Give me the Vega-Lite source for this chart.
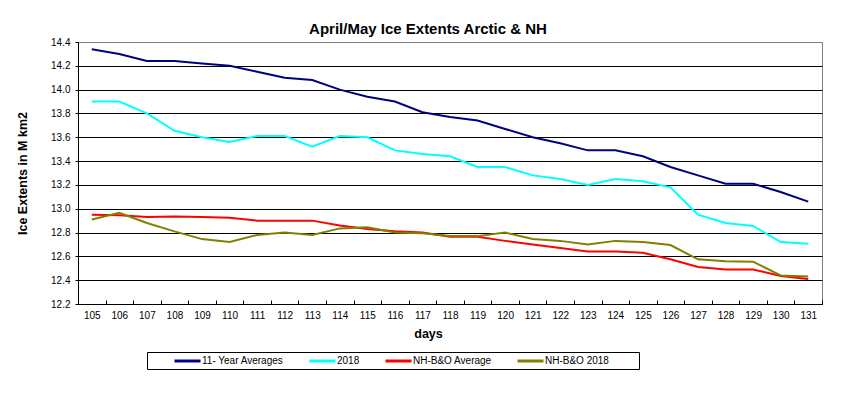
{
  "$schema": "https://vega.github.io/schema/vega-lite/v6.json",
  "autosize": "none",
  "width": 744,
  "height": 262,
  "padding": {"top": 42, "left": 78, "right": 38, "bottom": 91},
  "background": "white",
  "title": {"text": "April/May Ice Extents Arctic & NH", "font": "Liberation Sans", "fontSize": 15, "fontWeight": "bold", "color": "black", "anchor": "middle", "dx": -22, "offset": 0},
  "data": {"values": [
    {"day": 105, "series": "11- Year Averages", "value": 14.34},
    {"day": 106, "series": "11- Year Averages", "value": 14.30},
    {"day": 107, "series": "11- Year Averages", "value": 14.24},
    {"day": 108, "series": "11- Year Averages", "value": 14.24},
    {"day": 109, "series": "11- Year Averages", "value": 14.22},
    {"day": 110, "series": "11- Year Averages", "value": 14.20},
    {"day": 111, "series": "11- Year Averages", "value": 14.15},
    {"day": 112, "series": "11- Year Averages", "value": 14.10},
    {"day": 113, "series": "11- Year Averages", "value": 14.08},
    {"day": 114, "series": "11- Year Averages", "value": 14.00},
    {"day": 115, "series": "11- Year Averages", "value": 13.94},
    {"day": 116, "series": "11- Year Averages", "value": 13.90},
    {"day": 117, "series": "11- Year Averages", "value": 13.81},
    {"day": 118, "series": "11- Year Averages", "value": 13.77},
    {"day": 119, "series": "11- Year Averages", "value": 13.74},
    {"day": 120, "series": "11- Year Averages", "value": 13.67},
    {"day": 121, "series": "11- Year Averages", "value": 13.60},
    {"day": 122, "series": "11- Year Averages", "value": 13.55},
    {"day": 123, "series": "11- Year Averages", "value": 13.49},
    {"day": 124, "series": "11- Year Averages", "value": 13.49},
    {"day": 125, "series": "11- Year Averages", "value": 13.44},
    {"day": 126, "series": "11- Year Averages", "value": 13.35},
    {"day": 127, "series": "11- Year Averages", "value": 13.28},
    {"day": 128, "series": "11- Year Averages", "value": 13.21},
    {"day": 129, "series": "11- Year Averages", "value": 13.21},
    {"day": 130, "series": "11- Year Averages", "value": 13.14},
    {"day": 131, "series": "11- Year Averages", "value": 13.06},
    {"day": 105, "series": "2018", "value": 13.90},
    {"day": 106, "series": "2018", "value": 13.90},
    {"day": 107, "series": "2018", "value": 13.80},
    {"day": 108, "series": "2018", "value": 13.655},
    {"day": 109, "series": "2018", "value": 13.60},
    {"day": 110, "series": "2018", "value": 13.56},
    {"day": 111, "series": "2018", "value": 13.61},
    {"day": 112, "series": "2018", "value": 13.61},
    {"day": 113, "series": "2018", "value": 13.52},
    {"day": 114, "series": "2018", "value": 13.61},
    {"day": 115, "series": "2018", "value": 13.60},
    {"day": 116, "series": "2018", "value": 13.49},
    {"day": 117, "series": "2018", "value": 13.46},
    {"day": 118, "series": "2018", "value": 13.44},
    {"day": 119, "series": "2018", "value": 13.35},
    {"day": 120, "series": "2018", "value": 13.35},
    {"day": 121, "series": "2018", "value": 13.28},
    {"day": 122, "series": "2018", "value": 13.25},
    {"day": 123, "series": "2018", "value": 13.20},
    {"day": 124, "series": "2018", "value": 13.25},
    {"day": 125, "series": "2018", "value": 13.23},
    {"day": 126, "series": "2018", "value": 13.18},
    {"day": 127, "series": "2018", "value": 12.95},
    {"day": 128, "series": "2018", "value": 12.88},
    {"day": 129, "series": "2018", "value": 12.855},
    {"day": 130, "series": "2018", "value": 12.72},
    {"day": 131, "series": "2018", "value": 12.705},
    {"day": 105, "series": "NH-B&O Average", "value": 12.95},
    {"day": 106, "series": "NH-B&O Average", "value": 12.945},
    {"day": 107, "series": "NH-B&O Average", "value": 12.93},
    {"day": 108, "series": "NH-B&O Average", "value": 12.935},
    {"day": 109, "series": "NH-B&O Average", "value": 12.93},
    {"day": 110, "series": "NH-B&O Average", "value": 12.925},
    {"day": 111, "series": "NH-B&O Average", "value": 12.90},
    {"day": 112, "series": "NH-B&O Average", "value": 12.90},
    {"day": 113, "series": "NH-B&O Average", "value": 12.90},
    {"day": 114, "series": "NH-B&O Average", "value": 12.86},
    {"day": 115, "series": "NH-B&O Average", "value": 12.83},
    {"day": 116, "series": "NH-B&O Average", "value": 12.81},
    {"day": 117, "series": "NH-B&O Average", "value": 12.80},
    {"day": 118, "series": "NH-B&O Average", "value": 12.765},
    {"day": 119, "series": "NH-B&O Average", "value": 12.765},
    {"day": 120, "series": "NH-B&O Average", "value": 12.73},
    {"day": 121, "series": "NH-B&O Average", "value": 12.70},
    {"day": 122, "series": "NH-B&O Average", "value": 12.67},
    {"day": 123, "series": "NH-B&O Average", "value": 12.64},
    {"day": 124, "series": "NH-B&O Average", "value": 12.64},
    {"day": 125, "series": "NH-B&O Average", "value": 12.63},
    {"day": 126, "series": "NH-B&O Average", "value": 12.575},
    {"day": 127, "series": "NH-B&O Average", "value": 12.51},
    {"day": 128, "series": "NH-B&O Average", "value": 12.49},
    {"day": 129, "series": "NH-B&O Average", "value": 12.49},
    {"day": 130, "series": "NH-B&O Average", "value": 12.435},
    {"day": 131, "series": "NH-B&O Average", "value": 12.41},
    {"day": 105, "series": "NH-B&O 2018", "value": 12.91},
    {"day": 106, "series": "NH-B&O 2018", "value": 12.965},
    {"day": 107, "series": "NH-B&O 2018", "value": 12.88},
    {"day": 108, "series": "NH-B&O 2018", "value": 12.81},
    {"day": 109, "series": "NH-B&O 2018", "value": 12.745},
    {"day": 110, "series": "NH-B&O 2018", "value": 12.72},
    {"day": 111, "series": "NH-B&O 2018", "value": 12.78},
    {"day": 112, "series": "NH-B&O 2018", "value": 12.80},
    {"day": 113, "series": "NH-B&O 2018", "value": 12.78},
    {"day": 114, "series": "NH-B&O 2018", "value": 12.835},
    {"day": 115, "series": "NH-B&O 2018", "value": 12.845},
    {"day": 116, "series": "NH-B&O 2018", "value": 12.80},
    {"day": 117, "series": "NH-B&O 2018", "value": 12.795},
    {"day": 118, "series": "NH-B&O 2018", "value": 12.77},
    {"day": 119, "series": "NH-B&O 2018", "value": 12.77},
    {"day": 120, "series": "NH-B&O 2018", "value": 12.80},
    {"day": 121, "series": "NH-B&O 2018", "value": 12.745},
    {"day": 122, "series": "NH-B&O 2018", "value": 12.73},
    {"day": 123, "series": "NH-B&O 2018", "value": 12.70},
    {"day": 124, "series": "NH-B&O 2018", "value": 12.73},
    {"day": 125, "series": "NH-B&O 2018", "value": 12.72},
    {"day": 126, "series": "NH-B&O 2018", "value": 12.695},
    {"day": 127, "series": "NH-B&O 2018", "value": 12.575},
    {"day": 128, "series": "NH-B&O 2018", "value": 12.56},
    {"day": 129, "series": "NH-B&O 2018", "value": 12.555},
    {"day": 130, "series": "NH-B&O 2018", "value": 12.44},
    {"day": 131, "series": "NH-B&O 2018", "value": 12.43}
  ]},
  "mark": {"type": "line", "strokeWidth": 2, "clip": true},
  "encoding": {
    "x": {
      "field": "day", "type": "ordinal", "bandPosition": 0.5,
      "scale": {"type": "band", "paddingInner": 0, "paddingOuter": 0},
      "axis": {
        "title": "days", "titleFont": "Liberation Sans", "titleFontSize": 12.5, "titleFontWeight": "bold", "titleColor": "black",
        "titleX": 350, "titleY": 29, "titleBaseline": "middle", "titleAlign": "center",
        "labelAngle": 0, "labelFont": "Liberation Sans", "labelFontSize": 10, "labelColor": "black", "labelPadding": 10,
        "tickBand": "extent", "tickSize": -4, "tickColor": "black", "domainColor": "black", "grid": false
      }
    },
    "y": {
      "field": "value", "type": "quantitative",
      "scale": {"domain": [12.2, 14.4], "nice": false, "zero": false},
      "axis": {
        "title": "Ice Extents in M km2", "titleFont": "Liberation Sans", "titleFontSize": 12.5, "titleFontWeight": "bold", "titleColor": "black",
        "titleX": -56, "titleY": 131, "titleAngle": 270, "titleAlign": "center", "titleBaseline": "middle",
        "values": [12.2, 12.4, 12.6, 12.8, 13.0, 13.2, 13.4, 13.6, 13.8, 14.0, 14.2, 14.4],
        "format": ".1f", "labelFont": "Liberation Sans", "labelFontSize": 10, "labelColor": "black", "labelPadding": 5,
        "tickSize": 3, "tickColor": "black", "domainColor": "black",
        "grid": true, "gridColor": {"condition": {"test": "datum.value > 14.39", "value": "#808080"}, "value": "black"}, "gridOpacity": 1
      }
    },
    "color": {
      "field": "series", "type": "nominal",
      "scale": {"domain": ["11- Year Averages", "2018", "NH-B&O Average", "NH-B&O 2018"], "range": ["#000080", "#00FFFF", "#FF0000", "#808000"]},
      "legend": {
        "title": " ", "titleOrient": "left", "titlePadding": 24, "titleFontSize": 10,
        "orient": "none", "direction": "horizontal", "columns": 4, "legendX": 69, "legendY": 310,
        "symbolType": "M-1,0H3.73", "symbolSize": 121, "symbolStrokeWidth": 3, "labelOffset": 15,
        "labelFont": "Liberation Sans", "labelFontSize": 10, "labelColor": "black", "columnPadding": 19,
        "strokeColor": "black", "padding": 2, "fillColor": "white",
        "encode": {"symbols": {"update": {"shape": {"signal": "datum.value === 'NH-B&O 2018' ? 'M-1,0H3.73M19.6,0' : 'M-1,0H3.73'"}}}}
      }
    }
  },
  "config": {
    "view": {"stroke": "#808080", "strokeWidth": 1},
    "axis": {"domainWidth": 1, "tickWidth": 1, "gridWidth": 1}
  }
}
